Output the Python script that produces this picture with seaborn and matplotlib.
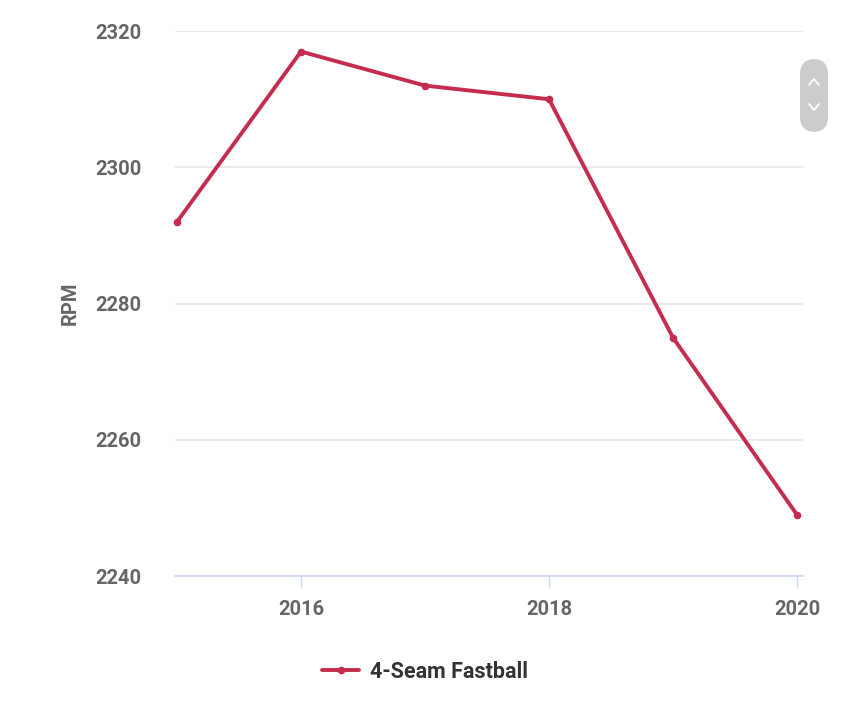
import matplotlib
matplotlib.use("Agg")
import matplotlib.pyplot as plt
from matplotlib.patches import FancyBboxPatch
from matplotlib.lines import Line2D
import seaborn as sns
import pandas as pd

years = [2015, 2016, 2017, 2018, 2019, 2020]
rpm = [2292, 2317, 2312, 2310, 2275, 2249]
series_name = "4-Seam Fastball"
y_ticks = [2240, 2260, 2280, 2300, 2320]
x_ticks = [2016, 2018, 2020]

sns.set_theme(style="white")
plt.rcParams['font.family'] = ['Roboto', 'DejaVu Sans']

df = pd.DataFrame({"Year": years, "RPM": rpm, "Pitch": series_name})

color = "#C42D4E"
grey_text = "#666666"

fig = plt.figure(figsize=(8.5, 7.07), dpi=100)
ax = fig.add_axes([0.206, 0.185, 0.739, 0.771])

sns.lineplot(data=df, x="Year", y="RPM", color=color, linewidth=2.8,
             marker="o", markersize=5.5, markeredgewidth=0, ax=ax, legend=False)
for ln in ax.lines:
    ln.set_clip_on(False)

ax.set_xlim(2014.985, 2020.05)
ax.set_ylim(2240, 2320)
ax.set_yticks(y_ticks)
ax.set_xticks(x_ticks)
ax.set_yticklabels([str(v) for v in y_ticks], fontsize=14.5, fontweight="bold", color=grey_text)
ax.set_xticklabels([str(v) for v in x_ticks], fontsize=14.5, fontweight="bold", color=grey_text)
ax.grid(axis="y", color="#e6e6e6", linewidth=1.2)
ax.set_axisbelow(True)
for s in ["top", "right", "left"]:
    ax.spines[s].set_visible(False)
ax.spines["bottom"].set_color("#ccd6eb")
ax.spines["bottom"].set_linewidth(1.2)
ax.tick_params(axis="y", length=0, pad=24)
ax.tick_params(axis="x", length=8, width=1, color="#ccd6eb", direction="out", pad=9, bottom=True)
ax.set_xlabel("")
ax.set_ylabel("RPM", fontsize=14.5, fontweight="bold", color=grey_text, labelpad=11)

handle = Line2D([0], [0], color=color, linewidth=2.8, marker="o", markersize=5.5, markeredgewidth=0)
fig.legend([handle], [series_name], loc="center", bbox_to_anchor=(0.5, 0.05),
           frameon=False, handlelength=1.7, handletextpad=0.5,
           prop={"family": "Roboto", "weight": "bold", "size": 15.5},
           labelcolor="#333333")

# scroll widget at right
W, H = 850, 707
box = FancyBboxPatch((800 / W, 1 - 132 / H), 28 / W, 73 / H,
                     boxstyle="round,pad=0,rounding_size=0.018", transform=fig.transFigure,
                     facecolor="#cccccc", edgecolor="none", mutation_aspect=W / H)
fig.patches.append(box)
for cy, up in [(82, True), (107, False)]:
    dy = 3 if up else -3
    xs = [809 / W, 814 / W, 819 / W]
    ys = [1 - (cy + dy) / H, 1 - (cy - dy) / H, 1 - (cy + dy) / H]
    fig.lines.append(Line2D(xs, ys, transform=fig.transFigure, color="white", linewidth=1.3))

fig.savefig("out.png", dpi=100, facecolor="white")
